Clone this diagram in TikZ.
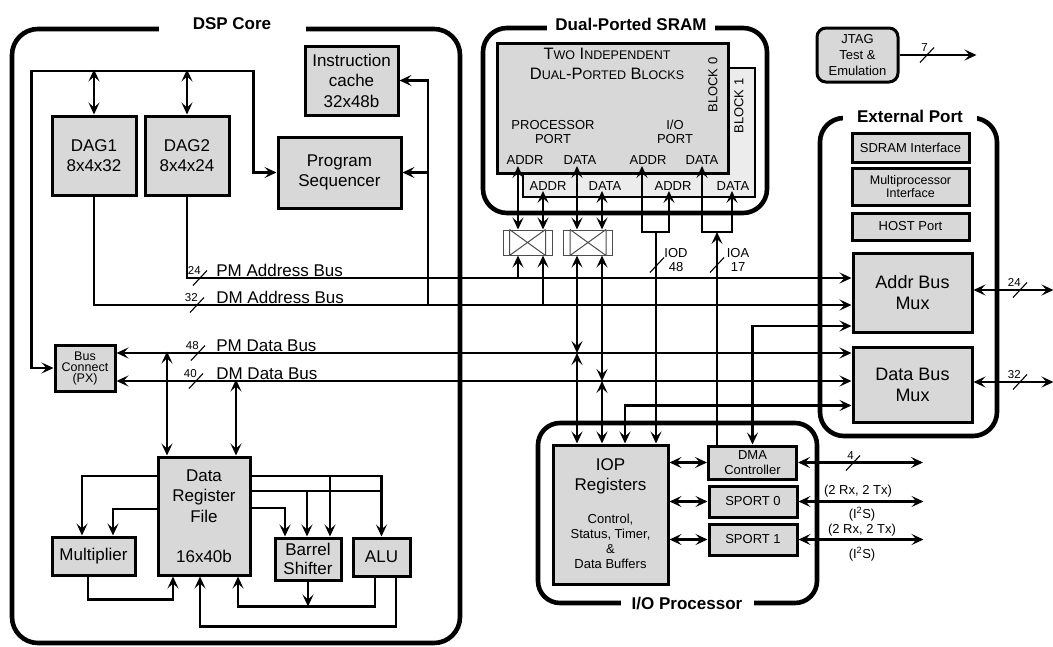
\documentclass[tikz,border=0pt]{standalone}
\usepackage{fontspec}
\setmainfont{Liberation Sans}
\usetikzlibrary{positioning, calc, arrows.meta}

\definecolor{boxgray}{RGB}{216,216,216}
\definecolor{backgray}{RGB}{236,236,236}
\newcommand{\scap}[2]{#1{\fontsize{12.5}{14}\selectfont #2}}

\tikzset{bw/.pic={\draw[line width=1.1pt] (-7,7.5) -- (7,-7.5);}}

\begin{document}
\begin{tikzpicture}[x=1pt, y=-1pt, line width=2.7pt,
	>={Stealth[length=12pt,width=11pt,inset=5pt]},
	blk/.style={draw, line width=3pt, fill=boxgray, align=center, inner sep=0pt, font=\fontsize{17}{20.5}\selectfont},
	sblk/.style={blk, font=\fontsize{13}{14.5}\selectfont},
	grp/.style={draw, line width=4.6pt, rounded corners=26pt, inner sep=0pt},
	ttl/.style={fill=white, inner sep=2pt, font=\bfseries\fontsize{17}{19}\selectfont},
	xbar/.style={draw=black!70, line width=1pt, minimum width=49pt, minimum height=25pt, inner sep=0pt},
	lbl/.style={anchor=base west, inner sep=0pt, font=\fontsize{17}{19}\selectfont},
	num/.style={anchor=base east, inner sep=0pt, font=\fontsize{11.5}{12}\selectfont},
	port/.style={inner sep=0pt, align=center, font=\fontsize{13}{14}\selectfont}]
	\useasboundingbox (0,0) rectangle (1053,646);

	% outlines and titles
	\node[grp, minimum width=448pt, minimum height=614pt] (dsp) at (236,336) {};
	\node[grp, minimum width=284pt, minimum height=185pt, rounded corners=24pt] (sram) at (625,120.5) {};
	\node[grp, minimum width=177pt, minimum height=318pt, rounded corners=24pt] (ext) at (908.5,277) {};
	\node[grp, minimum width=279pt, minimum height=180pt, rounded corners=22pt] (iopg) at (677.5,513) {};
	\node[ttl, minimum width=147pt] (dspt) at (232,24) {DSP Core};
	\node[ttl, minimum width=168pt] (sramt) at (631,24) {Dual-Ported SRAM};
	\node[ttl, minimum width=134pt] (extt) at (910,116) {External Port};
	\node[ttl, minimum width=133pt] (iopgt) at (687,604) {I/O Processor};

	% DSP core
	\node[blk, minimum width=93pt, minimum height=69pt] (cache) at (351.5,80.5) {Instruction\\cache\\32x48b};
	\node[blk, minimum width=84pt, minimum height=79pt] (dag1) at (94,155.5) {DAG1\\8x4x32};
	\node[blk, minimum width=84pt, minimum height=79pt] (dag2) at (187,155.5) {DAG2\\8x4x24};
	\node[blk, minimum width=123pt, minimum height=71pt] (seq) at (339.5,172.5) {Program\\Sequencer};
	\node[blk, minimum width=60pt, minimum height=46pt, font=\fontsize{12.5}{11}\selectfont] (bc) at (85,368) {Bus\\Connect\\(PX)};
	\node[blk, minimum width=92pt, minimum height=118pt] (drf) at (204,516) {Data\\Register\\File\\[20pt]16x40b};
	\node[blk, minimum width=83pt, minimum height=38pt] (mult) at (93.5,556) {Multiplier};
	\node[blk, minimum width=66pt, minimum height=42pt, font=\fontsize{17}{19.5}\selectfont] (bsh) at (308,559) {Barrel\\Shifter};
	\node[blk, minimum width=57pt, minimum height=38pt] (alu) at (381.5,557) {ALU};

	% dual-ported SRAM
	\node[draw, line width=2.6pt, fill=backgray, minimum width=232pt, minimum height=129pt] (blk1) at (639,132.5) {};
	\node[blk, minimum width=231pt, minimum height=130pt] (blk0) at (612.5,108) {};
	\node[inner sep=0pt, align=center, font=\fontsize{16.5}{20}\selectfont] (twoind) at (607,64)
		{\scap{T}{WO} \scap{I}{NDEPENDENT}\\\scap{D}{UAL}-\scap{P}{ORTED} \scap{B}{LOCKS}};
	\node[port, rotate=90] (b0l) at (713,85) {BLOCK 0};
	\node[port, rotate=90] (b1l) at (739,106) {BLOCK 1};
	\node[port] (ppl) at (553,132) {PROCESSOR\\PORT};
	\node[port] (iopl) at (675,132) {I/O\\PORT};
	\foreach \x/\y/\t/\nm in {525/160/ADDR/pl1, 580/160/DATA/pl2, 648/160/ADDR/pl3, 702/160/DATA/pl4,
		548/186/ADDR/pl5, 605/186/DATA/pl6, 673/186/ADDR/pl7, 733/186/DATA/pl8}
		\node[port] (\nm) at (\x,\y) {\t};
	\coordinate (pa0) at (518,166);
	\coordinate (pd0) at (577,166);
	\coordinate (ia0) at (642,166);
	\coordinate (id0) at (702,166);
	\coordinate (pa1) at (543,191);
	\coordinate (pd1) at (602,191);
	\coordinate (ia1) at (669,191);
	\coordinate (id1) at (732,191);
	\coordinate (iob) at (0,232);
	\coordinate (iod) at (656,232);
	\coordinate (ioa) at (717,232);

	% crossbars
	\node[xbar] (xb1) at (527.5,242.5) {};
	\node[xbar] (xb2) at (588,242.5) {};
	\foreach \b in {xb1, xb2}
		\draw[line width=1pt, black!70] ([xshift=7pt]\b.north west) -- ([xshift=7pt]\b.south west)
			([xshift=-7pt]\b.north east) -- ([xshift=-7pt]\b.south east)
			([xshift=7pt]\b.north west) -- ([xshift=-7pt]\b.south east)
			([xshift=7pt]\b.south west) -- ([xshift=-7pt]\b.north east);

	% external port
	\node[blk, rounded corners=9pt, minimum width=81pt, minimum height=54pt, font=\fontsize{13}{16}\selectfont] (jtag) at (857.5,55) {JTAG\\Test \&\\Emulation};
	\node[sblk, minimum width=117pt, minimum height=29pt] (sdram) at (910.5,147.5) {SDRAM Interface};
	\node[sblk, minimum width=117pt, minimum height=37pt, font=\fontsize{12.5}{13.5}\selectfont] (mpi) at (910.5,186.5) {Multiprocessor\\Interface};
	\node[sblk, minimum width=117pt, minimum height=27pt] (host) at (910.5,226.5) {HOST Port};
	\node[blk, minimum width=119pt, minimum height=79pt, font=\fontsize{18}{21}\selectfont] (amux) at (912.5,292.5) {Addr Bus\\Mux};
	\node[blk, minimum width=119pt, minimum height=75pt, font=\fontsize{18}{21}\selectfont] (dmux) at (912.5,384.5) {Data Bus\\Mux};

	% I/O processor
	\node[blk, minimum width=115pt, minimum height=139pt] (iop) at (610.5,514.5) {};
	\node[inner sep=0pt, align=center, font=\fontsize{17}{20}\selectfont] (iopt) at (610.5,476) {IOP\\Registers};
	\node[inner sep=0pt, align=center, font=\fontsize{13}{15}\selectfont] (iopc) at (610.5,541) {Control,\\Status, Timer,\\\&\\Data Buffers};
	\node[sblk, minimum width=88pt, minimum height=33pt, font=\fontsize{13}{15.5}\selectfont] (dma) at (752.5,462.5) {DMA\\Controller};
	\node[sblk, minimum width=88pt, minimum height=31pt] (sp0) at (753,501.5) {SPORT 0};
	\node[sblk, minimum width=88pt, minimum height=31pt] (sp1) at (753,539.5) {SPORT 1};

	% buses
	\coordinate (pmab) at (0,278);
	\coordinate (dmab) at (0,305);
	\coordinate (pmdb) at (0,353);
	\coordinate (dmdb) at (0,381);
	\coordinate (icb) at (428,305);
	\draw[->] (dag2.south) |- (amux.west |- pmab);
	\draw[->] (dag1.south) |- (amux.west |- dmab);
	\draw[<->] (bc.east |- pmdb) -- (dmux.west |- pmdb);
	\draw[<->] (bc.east |- dmdb) -- (dmux.west |- dmdb);
	\node[lbl] (pmal) at (215,276) {PM Address Bus};
	\node[lbl] (dmal) at (215,303) {DM Address Bus};
	\node[lbl] (pmdl) at (215,351) {PM Data Bus};
	\node[lbl] (dmdl) at (215,379) {DM Data Bus};
	\foreach \x/\y/\w/\nm in {200/278/24/wpma, 197/305/32/wdma, 198/353/48/wpmd, 196/381/40/wdmd,
		927/55/7/wjtag, 1020/290/24/wamux, 1020/382/32/wdmux, 853/463/4/wdmac}
	{
		\pic at (\x,\y) {bw};
		\node[num] (\nm) at (\x+2,\y-4) {\w};
	}

	% sequencer and DAGs
	\draw[<->] (seq.west) -| ++(-23,-101.5) -- ++(-222,0) |- (bc.west);
	\draw[<->] (dag1.north) -- ++(0,-45);
	\draw[<->] (dag2.north) -- ++(0,-45);
	\draw[->] (icb) |- (cache.east);
	\draw[->] (icb |- seq.east) -- (seq.east);

	% data register file
	\draw[<->] ([xshift=-37pt]drf.north) -- ++(0,-104);
	\draw[<->] ([xshift=32pt]drf.north) -- ++(0,-76);
	\draw[->] ([yshift=40pt]drf.west) -| ([xshift=-11.5pt]mult.north);
	\draw[->] ([yshift=7pt]drf.west) -| ([xshift=19.5pt]mult.north);
	\draw[->] ([yshift=40pt]drf.east) -| (alu.north);
	\draw ([yshift=25pt]drf.east) -- ++(131.5,0);
	\draw[->] ([yshift=8pt]drf.east) -| ([xshift=-23pt]bsh.north);
	\draw[<-] ([xshift=-1pt]bsh.north) -- ++(0,-47);
	\draw[<-] ([xshift=22pt]bsh.north) -- ++(0,-62);
	\draw[->] ([xshift=-5.5pt]mult.south) -- ++(0,23) -| ([xshift=-31pt]drf.south);
	\draw[->] (bsh.south) -- ++(0,25);
	\draw[->] ([xshift=-6.5pt]alu.south) -- ++(0,29) -| ([xshift=34pt]drf.south);
	\draw[->] ([xshift=14.5pt]alu.south) -- ++(0,49) -| ([xshift=-4pt]drf.south);

	% memory ports
	\draw[<->] (pa0) -- (pa0 |- xb1.north);
	\draw[<->] (pa1) -- (pa1 |- xb1.north);
	\draw[<->] (pd0) -- (pd0 |- xb2.north);
	\draw[<->] (pd1) -- (pd1 |- xb2.north);
	\draw[->] (pa0 |- pmab) -- (pa0 |- xb1.south);
	\draw[->] (pa1 |- dmab) -- (pa1 |- xb1.south);
	\draw[<->] (pd0 |- xb2.south) -- (pd0 |- pmdb);
	\draw[<->] (pd0 |- pmdb) -- (pd0 |- iop.north);
	\draw[<->] (pd1 |- xb2.south) -- (pd1 |- dmdb);
	\draw[<->] (pd1 |- dmdb) -- (pd1 |- iop.north);
	\draw[<->] (ia0) |- (ia1 |- iob) -- (ia1);
	\draw[<->] (id0) |- (id1 |- iob) -- (id1);
	\draw[->] (iod) -- (iod |- iop.north);
	\draw[->] (ioa |- dma.north) -- (ioa);
	\pic at (657,265) {bw};
	\pic at (717,265) {bw};
	\node[port] (iodl) at (676,260) {IOD\\48};
	\node[port] (ioal) at (738,260) {IOA\\17};

	% I/O processor links
	\draw[<->] ([yshift=-21pt]dmux.west) -| ([xshift=14.5pt]iop.north);
	\draw[<->] ([yshift=-33.5pt]amux.west) -| (dma.north);
	\foreach \n in {dma, sp0, sp1}
	{
		\draw[<->] (iop.east |- \n.west) -- (\n.west);
		\draw[<->] (\n.east) -- ++(125,0);
	}
	\node[port] (sp0a) at (858,491) {(2 Rx, 2 Tx)};
	\node[port] (sp0b) at (862,514) {(I\textsuperscript{2}S)};
	\node[port] (sp1a) at (862,530) {(2 Rx, 2 Tx)};
	\node[port] (sp1b) at (862,554) {(I\textsuperscript{2}S)};

	% external links
	\draw[->] (jtag.east) -- ++(77,0);
	\draw[<->] ([yshift=2.5pt]amux.east) -- ++(80,0);
	\draw[<->] ([yshift=2.5pt]dmux.east) -- ++(80,0);
\end{tikzpicture}
\end{document}
